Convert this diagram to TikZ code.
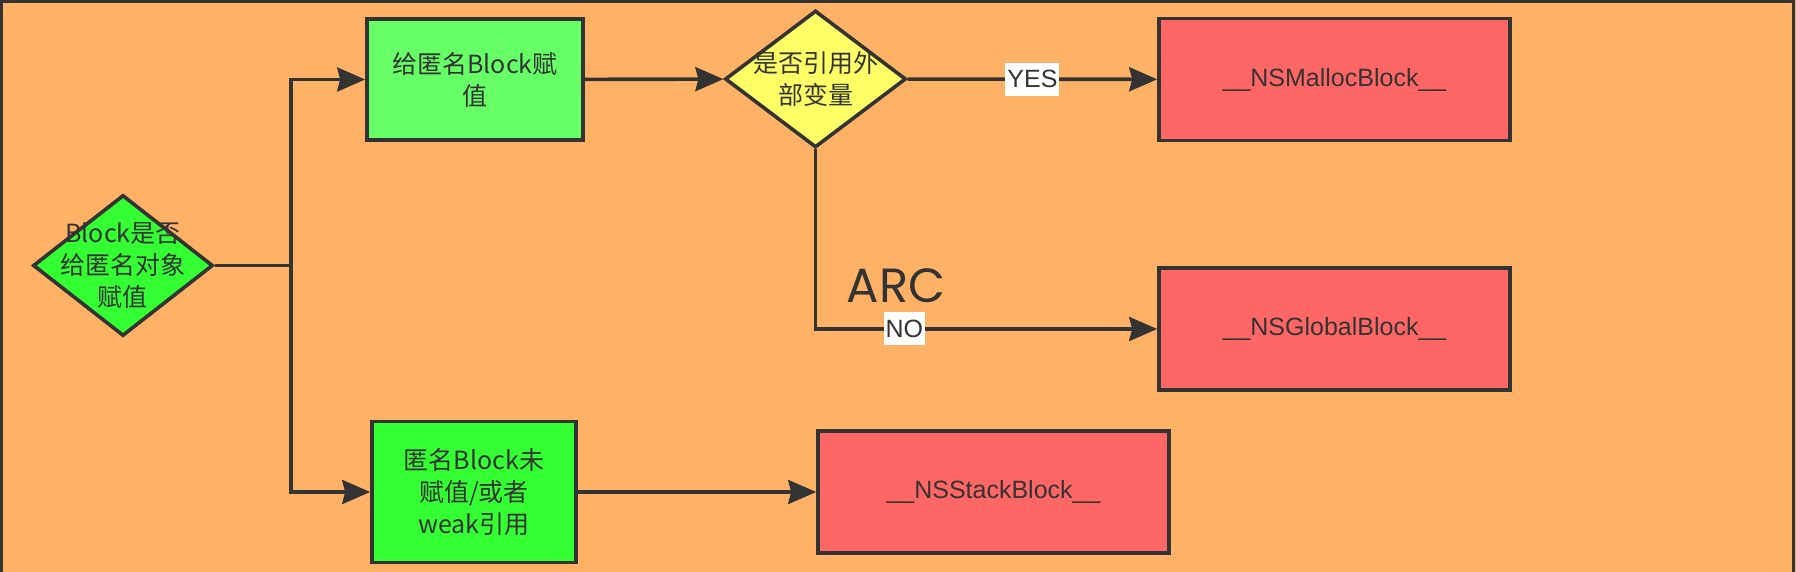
\documentclass[tikz,border=0pt]{standalone}
\usepackage{fontspec}
\usepackage{xcolor}
\usepackage{tikz}
\usetikzlibrary{shapes.geometric, arrows.meta, positioning}
\setmainfont{Liberation Sans}
\newfontfamily\cjk{Noto Sans CJK SC}
\newfontfamily\arcfont{Poppins}
\definecolor{myorange}{rgb}{1.00, 0.70, 0.40}
\definecolor{mylime}{rgb}{0.20, 1.00, 0.20}
\definecolor{mymint}{rgb}{0.40, 1.00, 0.40}
\definecolor{myyellow}{rgb}{1.00, 1.00, 0.40}
\definecolor{myred}{rgb}{1.00, 0.40, 0.40}
\definecolor{myink}{rgb}{0.20, 0.20, 0.20}
\tikzstyle{decision} = [diamond, draw=myink, line width=1.8pt, inner sep=0pt]
\tikzstyle{arrow} = [line width=1.8pt, draw=myink, -{Stealth[length=14pt, width=12pt, inset=1.5pt]}]
\tikzstyle{tag} = [fill=white, text=myink, inner xsep=1pt, minimum height=16.5pt, font=\fontsize{12.5}{14}\selectfont]

\begin{document}
\begin{tikzpicture}[x=0.5pt, y=-0.5pt, cjktext/.style={text=myink, align=center, font=\cjk\fontsize{12.5}{16}\selectfont}, box/.style={draw=myink, line width=1.8pt, cjktext}, result/.style={draw=myink, line width=1.8pt, fill=myred, minimum width=175.5pt, minimum height=61pt, text=myink, font=\fontsize{12.5}{15}\selectfont}]
    \useasboundingbox (0,0) rectangle (1796,572);
    \fill[myorange] (0,0) rectangle (1796,572);
    \draw[myink, line width=1.5pt] (1.5,572) -- (1.5,1.5) -- (1793.5,1.5) -- (1793.5,572);
    \node[decision, fill=mylime, minimum width=90pt, minimum height=70.5pt, label={[cjktext]center:Block是否\\给匿名对象\\赋值}] (d1) at (123,265.5) {};
    \node[box, fill=mymint, minimum width=108pt, minimum height=60.5pt] (b1) at (475,79.5) {给匿名Block赋\\值};
    \node[decision, fill=myyellow, minimum width=90.5pt, minimum height=68.5pt, label={[cjktext]center:是否引用外\\部变量}] (d2) at (815.5,79) {};
    \node[box, fill=mylime, minimum width=102pt, minimum height=70.5pt] (b2) at (474,492) {匿名Block未\\赋值/或者\\weak引用};
    \node[result] (r1) at (1334.5,79.5) {\_\_NSMallocBlock\_\_};
    \node[result] (r2) at (1334.5,329) {\_\_NSGlobalBlock\_\_};
    \node[result] (r3) at (993.5,492) {\_\_NSStackBlock\_\_};
    \node[text=myink, font=\arcfont\fontsize{24}{28}\selectfont] (arc) at (896,286) {ARC};
    \coordinate (split) at (291,265.5);
    \draw[arrow] (d1.east) -- (split) |- (b1.west);
    \draw[arrow] (d1.east) -- (split) |- (b2.west);
    \draw[arrow] (b1) -- (d2);
    \draw[arrow] (d2) -- node[tag, midway] {YES} (r1);
    \draw[arrow] (d2.south) |- node[tag, pos=0.63] {NO} (r2.west);
    \draw[arrow] (b2) -- (r3);
\end{tikzpicture}
\end{document}
